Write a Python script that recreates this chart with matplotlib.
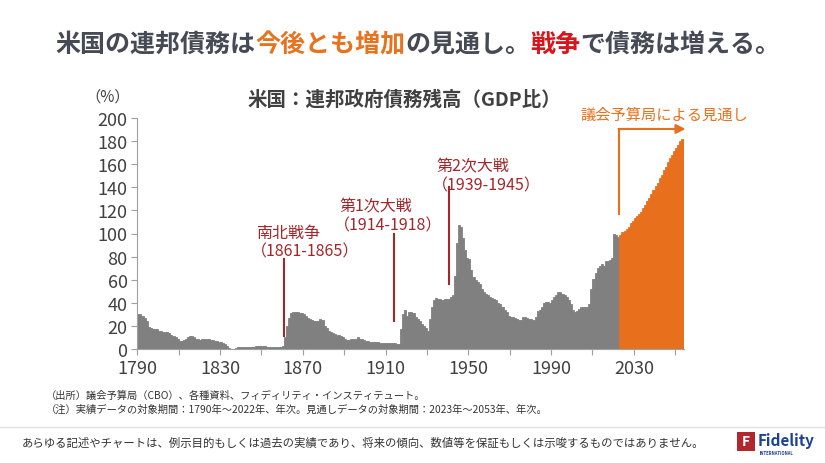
import matplotlib
matplotlib.use('Agg')
import matplotlib.pyplot as plt
from matplotlib.patches import Rectangle

plt.rcParams['font.family'] = ['Noto Sans CJK JP', 'DejaVu Sans']

# actual debt / GDP (%), 1790-2022
hist_years = list(range(1790, 2023))
hist_debt = [
    30, 30, 29, 27, 24, 19, 18, 17, 17, 17,      # 1790s
    16, 16, 15, 15, 15, 14, 12, 11, 10, 9,       # 1800s
    7, 7, 8, 9, 10, 11, 11, 10, 9, 9,            # 1810s
    8, 9, 9, 9, 9, 8, 8, 7, 7, 6,                # 1820s
    6, 5, 4, 3, 1, 0, 0, 1, 2, 2,                # 1830s
    2, 2, 2, 2, 2, 2, 2, 3, 3, 3,                # 1840s
    3, 3, 2, 2, 2, 2, 2, 2, 2, 2,                # 1850s
    3, 10, 20, 27, 31, 32, 32, 32, 31, 31,       # 1860s
    30, 29, 27, 26, 25, 24, 24, 24, 26, 25,      # 1870s
    20, 18, 16, 15, 14, 13, 12, 12, 11, 10,      # 1880s
    9, 8, 8, 9, 9, 9, 10, 9, 9, 8,               # 1890s
    7, 7, 6, 6, 6, 6, 6, 5, 5, 5,                # 1900s
    5, 5, 5, 5, 5, 4, 4, 17, 30, 34,             # 1910s
    29, 32, 32, 31, 28, 26, 24, 22, 20, 18,      # 1920s
    16, 26, 36, 42, 44, 43, 43, 42, 43, 43,      # 1930s
    43, 45, 47, 63, 92, 107, 106, 96, 86, 79,    # 1940s
    78, 68, 62, 60, 58, 56, 52, 49, 48, 47,      # 1950s
    45, 44, 43, 42, 40, 39, 36, 34, 32, 29,      # 1960s
    28, 28, 27, 26, 25, 25, 28, 28, 27, 26,      # 1970s
    26, 25, 28, 33, 34, 36, 40, 41, 41, 40,      # 1980s
    42, 45, 47, 49, 49, 48, 47, 45, 42, 39,      # 1990s
    34, 32, 33, 35, 36, 36, 36, 36, 39, 52,      # 2000s
    61, 66, 70, 72, 74, 72, 76, 76, 77, 79,      # 2010s
    100, 99, 97,                                 # 2020-2022
]

# CBO projection, 2023-2053
proj_years = list(range(2023, 2054))
proj_debt = [
    99, 101, 102, 104, 106, 109, 111, 113, 115, 117,
    119, 122, 125, 128, 131, 134, 138, 141, 144, 148,
    151, 155, 158, 162, 165, 168, 171, 174, 177, 180,
    182,
]

tick_years = list(range(1790, 2051, 20))
tick_labels = [str(y) if (y - 1790) % 40 == 0 else '' for y in tick_years]
y_ticks = list(range(0, 201, 20))

# war annotations: label, period, line x, line bottom, line top, text x, text y
wars = [
    ('南北戦争', '（1861-1865）', 1860.9, 11.5, 78, 1847.3, 101.3),
    ('第1次大戦', '（1914-1918）', 1914.1, 24.5, 99.6, 1887.5, 124.1),
    ('第2次大戦', '（1939-1945）', 1940.7, 56, 140, 1934.8, 158.4),
]

gray = '#808080'
orange = '#e8701c'
dark_red = '#a3262a'
text_gray = '#404040'

W, H = 825, 464
fig = plt.figure(figsize=(W / 100, H / 100), dpi=100)
ax = fig.add_axes([137.3 / W, 1 - 350 / H, (683.5 - 137.3) / W, (350 - 119) / H])

ax.bar(hist_years, hist_debt, width=1.0, align='edge', color=gray,
       edgecolor=gray, linewidth=0.6)
ax.bar(proj_years, proj_debt, width=1.0, align='edge', color=orange,
       edgecolor=orange, linewidth=0.6)

ax.set_xlim(1790, 2054)
ax.set_ylim(0, 200)
ax.set_xticks(tick_years)
ax.set_xticklabels(tick_labels)
ax.set_yticks(y_ticks)
for s in ['top', 'right']:
    ax.spines[s].set_visible(False)
for s in ['left', 'bottom']:
    ax.spines[s].set_color('#a0a0a0')
    ax.spines[s].set_linewidth(0.8)
ax.tick_params(axis='both', colors='#a0a0a0', length=4, width=0.8,
               labelcolor=text_gray, labelsize=13, pad=3)

for name, period, lx, lb, lt, tx, ty in wars:
    ax.plot([lx, lx], [lb, lt], color=dark_red, lw=1.5, clip_on=False)
    ax.text(tx, ty, name, color=dark_red, fontsize=11.5, ha='left', va='center')
    ax.text(tx - 2.5, ty - 16.5, period, color=dark_red, fontsize=11.5,
            ha='left', va='center')

# projection arrow
ax.plot([2023, 2023], [117, 190.5], color=orange, lw=1.5, clip_on=False)
ax.annotate('', xy=(2055, 190.5), xytext=(2022.6, 190.5),
            arrowprops=dict(arrowstyle='-|>', color=orange, lw=1.5,
                            shrinkA=0, shrinkB=0, mutation_scale=14),
            annotation_clip=False)
ax.text(2044.6, 203.5, '議会予算局による見通し', color=orange, fontsize=11,
        ha='center', va='center', clip_on=False)

fig.text(107.5 / W, 1 - 97 / H, '（%）', color=text_gray, fontsize=11,
         ha='center', va='center')
fig.text(404 / W, 1 - 100 / H, '米国：連邦政府債務残高（GDP比）', color=text_gray,
         fontsize=14, fontweight='bold', ha='center', va='center')

# title with coloured words
pieces = [('米国の連邦債務は', '#454a55'), ('今後とも増加', '#e8731f'),
          ('の見通し。', '#454a55'), ('戦争', '#d9141b'),
          ('で債務は増える。', '#454a55')]
renderer = fig.canvas.get_renderer()
parts = [fig.text(0, 1 - 45 / H, s, color=c, fontsize=18, fontweight='bold',
                  ha='left', va='center') for s, c in pieces]
widths = [p.get_window_extent(renderer).width for p in parts]
x = 418 - sum(widths) / 2
for p, w in zip(parts, widths):
    p.set_x(x / W)
    x += w

fig.text(46 / W, 1 - 396 / H,
         '（出所）議会予算局（CBO）、各種資料、フィディリティ・インスティテュート。',
         color='#333333', fontsize=7.4, ha='left', va='center')
fig.text(46 / W, 1 - 410 / H,
         '（注）実績データの対象期間：1790年～2022年、年次。見通しデータの対象期間：2023年～2053年、年次。',
         color='#333333', fontsize=7.4, ha='left', va='center')

fig.add_artist(plt.Line2D([0, 1], [1 - 428 / H, 1 - 428 / H], color='#e0e0e0', lw=1))
fig.text(22 / W, 1 - 443 / H,
         'あらゆる記述やチャートは、例示目的もしくは過去の実績であり、将来の傾向、数値等を保証もしくは示唆するものではありません。',
         color='#333333', fontsize=8.2, ha='left', va='center')

# logo
fig.add_artist(Rectangle((737 / W, 1 - 452 / H), 18 / W, 19 / H,
                         facecolor='#b0282d', edgecolor='none'))
fig.text(746 / W, 1 - 442.5 / H, 'F', color='white', fontsize=10,
         fontweight='bold', ha='center', va='center')
fig.text(758 / W, 1 - 441 / H, 'Fidelity', color='#1e4193', fontsize=11,
         fontweight='bold', ha='left', va='center')
fig.text(760 / W, 1 - 454 / H, 'INTERNATIONAL', color='#1e4193', fontsize=3,
         fontweight='bold', ha='left', va='center')

fig.savefig('out.png', dpi=100)
